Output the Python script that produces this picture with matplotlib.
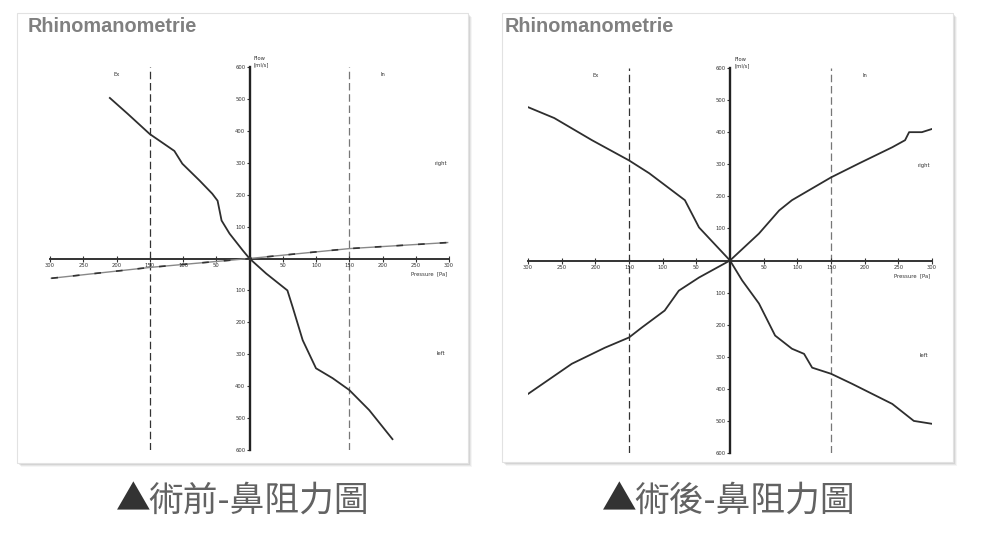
import matplotlib
matplotlib.use('Agg')
import matplotlib.pyplot as plt
from matplotlib.patches import Rectangle
import numpy as np

# figure size in pixels
W, H = 988, 538

# pressure [Pa] / flow [ml/s]
pre_steep_p = [-210, -183, -150, -113, -101, -75, -56, -48, -42, -30, -10, 0,
               25, 57, 65, 80, 100, 125, 150, 180, 215]
pre_steep_f = [503, 453, 390, 337, 297, 244, 203, 181, 119, 78, 25, 0,
               -47, -100, -153, -256, -344, -375, -412, -475, -566]
pre_flat_p = [-298, -150, 0, 150, 298]
pre_flat_f = [-62, -28, 0, 31, 50]

post_a_p = [-300, -261, -205, -150, -120, -67, -46, 0, 18, 43, 67, 92, 110,
            122, 150, 181, 241, 273, 300]
post_a_f = [478, 444, 375, 312, 272, 188, 103, 0, -62, -134, -234, -275, -291,
            -334, -353, -384, -447, -500, -509]
post_b_p = [-300, -235, -186, -150, -131, -97, -76, -46, 0, 43, 73, 92, 150,
            192, 241, 260, 266, 285, 303]
post_b_f = [-416, -322, -272, -240, -209, -156, -94, -53, 0, 84, 156, 188, 259,
            303, 353, 375, 400, 400, 412]

x_ticks = list(range(-300, 301, 50))
y_ticks = [v for v in range(-600, 601, 100) if v != 0]
title = 'Rhinomanometrie'
captions = ['術前-鼻阻力圖', '術後-鼻阻力圖']

CJK = ['Noto Sans CJK TC', 'DejaVu Sans']


def fx(px):
	return px / W


def fy(py):
	return 1 - py / H


def panel_box(fig, x0, y0, x1, y1):
	# soft shadow on the right / bottom
	for i, a in enumerate([0.10, 0.08, 0.06, 0.04]):
		d = i + 1
		fig.patches.append(Rectangle((fx(x0 + d), fy(y1 + d)), fx(x1 - x0), (y1 - y0) / H,
			transform=fig.transFigure, facecolor='#000000', alpha=a, edgecolor='none', zorder=-3))
	fig.patches.append(Rectangle((fx(x0), fy(y1)), fx(x1 - x0), (y1 - y0) / H,
		transform=fig.transFigure, facecolor='white', edgecolor='#e2e2e2', lw=0.8, zorder=-2))


def setup_axes(fig, x0, y0, x1, y1):
	ax = fig.add_axes([fx(x0), fy(y1), fx(x1 - x0), (y1 - y0) / H])
	ax.set_zorder(2)
	ax.set_facecolor('none')
	ax.set_xlim(-300, 300)
	ax.set_ylim(-600, 600)
	for s in ['top', 'right']:
		ax.spines[s].set_visible(False)
	ax.spines['left'].set_position(('data', 0))
	ax.spines['bottom'].set_position(('data', 0))
	ax.spines['left'].set_linewidth(1.7)
	ax.spines['bottom'].set_linewidth(1.4)
	ax.spines['left'].set_color('#222222')
	ax.spines['bottom'].set_color('#333333')
	ax.set_xticks(x_ticks)
	ax.set_xticklabels(['' if v == 0 else str(abs(v)) for v in x_ticks])
	ax.set_yticks(y_ticks)
	ax.set_yticklabels([str(abs(v)) for v in y_ticks])
	ax.tick_params(axis='x', direction='inout', length=4, width=0.8, pad=1,
		labelsize=3.8, colors='#333333')
	ax.tick_params(axis='y', direction='out', length=2, width=0.8, pad=1,
		labelsize=3.8, colors='#333333')
	for v in [-150, 150]:
		ax.axvline(v, color='#333333' if v < 0 else '#777777', lw=0.9,
			linestyle=(0, (6, 3)), zorder=1)
	ax.text(6, 600, 'Flow\n[ml/s]', fontsize=3.8, ha='left', va='bottom',
		color='#333333', clip_on=False, linespacing=1.3)
	ax.text(298, -40, 'Pressure  [Pa]', fontsize=3.8, ha='right', va='top', color='#333333')
	ax.text(-200, 572, 'Ex', fontsize=3.8, ha='center', color='#333333')
	ax.text(200, 572, 'In', fontsize=3.8, ha='center', color='#333333')
	ax.text(288, 297, 'right', fontsize=3.8, ha='center', va='center', color='#333333')
	ax.text(288, -297, 'left', fontsize=3.8, ha='center', va='center', color='#333333')
	return ax


fig = plt.figure(figsize=(W / 100, H / 100), dpi=100)
fig.patch.set_facecolor('white')

# pre-op panel
panel_box(fig, 17, 13, 468, 463)
fig.text(fx(28), fy(27), title, fontsize=14.3, fontweight='bold', color='#808080',
	family='Liberation Sans', ha='left', va='center')
ax1 = setup_axes(fig, 50, 67, 449, 450)
ax1.plot(pre_steep_p, pre_steep_f, color='#2e2e2e', lw=1.3, zorder=3)
ax1.plot(pre_flat_p, pre_flat_f, color='#888888', lw=1.0, zorder=3)
ax1.plot(pre_flat_p, pre_flat_f, color='#333333', lw=1.2, linestyle=(0, (4, 9)), zorder=3)

# post-op panel
panel_box(fig, 502, 13, 953, 462)
fig.text(fx(505), fy(27), title, fontsize=14.3, fontweight='bold', color='#808080',
	family='Liberation Sans', ha='left', va='center')
ax2 = setup_axes(fig, 528, 68, 932, 453)
ax2.plot(post_a_p, post_a_f, color='#2e2e2e', lw=1.3, zorder=3)
ax2.plot(post_b_p, post_b_f, color='#2e2e2e', lw=1.3, zorder=3)

# captions: dark triangle, gray text
for x0, cap in zip([116, 602], captions):
	fig.text(fx(x0), fy(501), '▲', fontsize=25, color='#333333', family=CJK,
		ha='left', va='center')
	fig.text(fx(x0 + 32), fy(501), cap, fontsize=25, color='#626262', family=CJK,
		ha='left', va='center')

fig.savefig('out.png', dpi=100, facecolor='white')
